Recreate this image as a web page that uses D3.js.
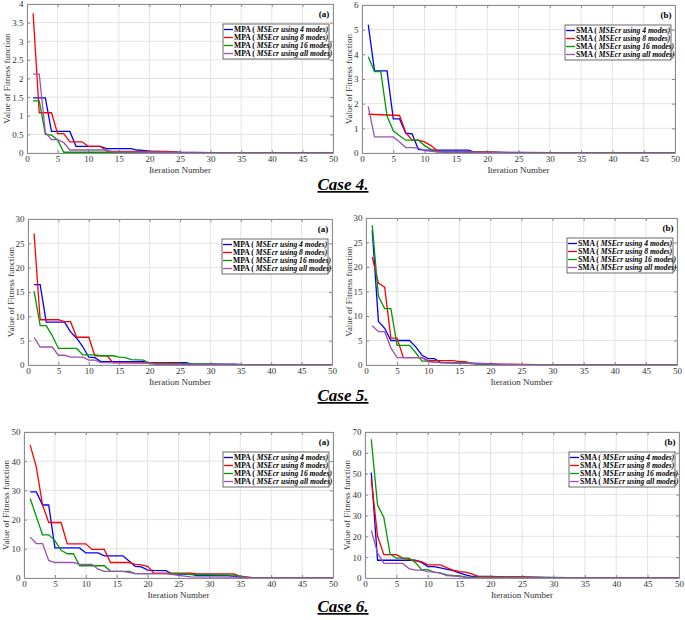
<!DOCTYPE html>
<html>
<head>
<meta charset="utf-8">
<script src="https://d3js.org/d3.v7.min.js"></script>
<style>
body { margin: 0; background: #fff; }
svg { display: block; }
</style>
</head>
<body>
<div id="chart"></div>
<script>
// x ticks shared by every panel
var iterTicks = [0, 5, 10, 15, 20, 25, 30, 35, 40, 45, 50];
var modeLabels = ["using 4 modes)", "using 8 modes)", "using 16 modes)", "using all modes)"];
var lineColors = ["#0000ff", "#ff0000", "#009900", "#9e4fb8"];

// convergence curves, [iteration, fitness] breakpoints
// Case 4 - MPA
var c4_mpa_4 = [[1,1.48],[3,1.48],[4,0.58],[7,0.58],[8,0.18],[12,0.18],[13,0.12],[17,0.12],[18,0.08],[19,0.07],[20,0.05],[25,0.02],[30,0.01],[35,0],[50,0]];
var c4_mpa_8 = [[1,3.75],[2,1.08],[4,1.08],[5,0.52],[6,0.52],[7,0.3],[9,0.3],[10,0.18],[12,0.18],[13,0.05],[23,0.04],[25,0.01],[30,0],[50,0]];
var c4_mpa_16 = [[1,1.4],[2,1.4],[3,0.5],[4,0.48],[5,0.35],[6,0.02],[22,0.02],[25,0],[50,0]];
var c4_mpa_all = [[1,2.12],[2,2.12],[3,0.55],[4,0.36],[5,0.36],[6,0.28],[7,0.08],[13,0.08],[14,0.03],[22,0.02],[26,0],[50,0]];
var c4_mpa_ticks = [0, 0.5, 1, 1.5, 2, 2.5, 3, 3.5, 4];
// Case 4 - SMA
var c4_sma_4 = [[1,5.2],[2,3.33],[4,3.33],[5,1.38],[6,1.38],[7,0.8],[8,0.78],[9,0.15],[10,0.12],[17,0.12],[18,0.04],[25,0.02],[30,0.01],[35,0],[50,0]];
var c4_sma_8 = [[1,1.57],[6,1.52],[7,0.82],[8,0.52],[9,0.52],[10,0.45],[11,0.3],[12,0.1],[13,0.05],[20,0.04],[24,0],[50,0]];
var c4_sma_16 = [[1,3.9],[2,3.3],[3,3.3],[4,1.5],[5,0.9],[6,0.7],[7,0.52],[9,0.52],[10,0.3],[11,0.15],[12,0.05],[20,0.02],[24,0],[50,0]];
var c4_sma_all = [[1,1.88],[2,0.65],[5,0.65],[6,0.45],[7,0.22],[8,0.22],[9,0.2],[10,0.1],[12,0.05],[20,0.02],[25,0],[50,0]];
var c4_sma_ticks = [0, 1, 2, 3, 4, 5, 6];
// Case 5 - MPA
var c5_mpa_4 = [[1,16.5],[2,16.5],[3,8.8],[6,8.8],[7,6.8],[8,5.5],[9,3.8],[10,1.6],[11,1.5],[12,0.7],[19,0.7],[20,0.5],[26,0.5],[27,0.2],[34,0.2],[36,0],[50,0]];
var c5_mpa_8 = [[1,27],[2,9.3],[5,9.3],[6,8.9],[7,8.9],[8,5.7],[10,5.7],[11,1.9],[13,1.9],[14,0.5],[25,0.4],[26,0.2],[30,0.1],[35,0],[50,0]];
var c5_mpa_16 = [[1,15.2],[2,8.1],[3,8.1],[4,6],[5,3.4],[8,3.4],[9,2.1],[11,2.1],[12,1.9],[14,1.9],[15,1.6],[16,1.5],[17,1.1],[19,1.0],[20,0.3],[30,0.2],[33,0],[50,0]];
var c5_mpa_all = [[1,5.7],[2,3.7],[4,3.7],[5,2],[6,2],[7,1.6],[9,1.6],[10,1.0],[11,1.0],[12,0.5],[20,0.4],[21,0.1],[30,0.05],[35,0],[50,0]];
var c5_mpa_ticks = [0, 5, 10, 15, 20, 25, 30];
// Case 5 - SMA
var c5_sma_4 = [[1,27.5],[2,8.9],[3,7.5],[4,5],[7,5],[8,3.7],[9,2],[10,1.3],[11,1.3],[12,0.5],[20,0.3],[21,0.1],[30,0.05],[35,0],[50,0]];
var c5_sma_8 = [[1,22],[2,16.7],[3,15.9],[4,5.5],[5,5.5],[6,1.5],[9,1.5],[10,0.9],[14,0.9],[15,0.7],[16,0.7],[17,0.3],[25,0.1],[30,0],[50,0]];
var c5_sma_16 = [[1,28.5],[2,14],[3,11.5],[4,11.5],[5,4],[7,4],[8,2.5],[9,0.8],[10,0.8],[11,0.6],[17,0.4],[18,0.1],[25,0],[50,0]];
var c5_sma_all = [[1,8],[2,6.8],[3,6.8],[4,3.5],[5,1.5],[9,1.5],[10,0.7],[12,0.5],[20,0.2],[25,0.05],[30,0],[50,0]];
var c5_sma_ticks = [0, 5, 10, 15, 20, 25, 30];
// Case 6 - MPA
var c6_mpa_4 = [[1,29.5],[2,29.5],[3,25],[4,25],[5,10.3],[9,10.3],[10,8.6],[12,8.6],[13,7.6],[16,7.6],[17,5.8],[18,4],[19,3.8],[20,2.7],[21,2.6],[23,2.5],[24,1.3],[27,1.3],[28,0.8],[33,0.8],[35,0.3],[38,0],[50,0]];
var c6_mpa_8 = [[1,45.5],[2,38],[3,25],[4,19],[6,19],[7,11.7],[10,11.7],[11,9.8],[13,9.8],[14,5.3],[17,5.3],[18,4.7],[19,4.5],[20,4],[21,1.7],[27,1.7],[28,1.4],[34,1.4],[35,0.6],[37,0.1],[40,0],[50,0]];
var c6_mpa_16 = [[1,27.2],[2,21],[3,14.8],[4,14.8],[5,12.8],[6,9.5],[7,8.3],[8,8.3],[9,4.2],[13,4.2],[14,2.3],[17,2.3],[18,1.5],[26,1.5],[27,1.2],[34,1.0],[36,0.2],[38,0],[50,0]];
var c6_mpa_all = [[1,14],[2,11.8],[3,11.8],[4,6],[5,5.3],[8,5.3],[9,4.7],[11,4.7],[12,3],[13,2.3],[16,2.3],[18,1.5],[23,1.5],[25,0.9],[27,0.4],[35,0.3],[37,0],[50,0]];
var c6_mpa_ticks = [0, 10, 20, 30, 40, 50];
// Case 6 - SMA
var c6_sma_4 = [[1,50.5],[2,8.5],[8,8.5],[9,7.5],[10,5.5],[11,5.5],[12,4.8],[14,3.5],[15,2.5],[16,1.5],[17,0.8],[20,0.8],[22,0.5],[25,0.4],[30,0.2],[35,0.1],[40,0],[50,0]];
var c6_sma_8 = [[1,47.5],[2,20],[3,11.2],[5,11.2],[6,9.5],[8,8.3],[9,7.8],[10,6.3],[12,6.3],[13,5],[14,3.8],[15,3],[16,2.8],[17,2],[18,0.8],[25,0.5],[30,0.1],[35,0],[50,0]];
var c6_sma_16 = [[1,66.5],[2,35],[3,29],[4,11.5],[5,9.5],[7,9.5],[8,7.5],[9,4],[10,4],[11,2.8],[12,2.5],[13,1.5],[14,1.2],[15,1.0],[16,0.5],[30,0.3],[35,0],[50,0]];
var c6_sma_all = [[1,22.8],[2,12],[3,7],[6,7],[7,4.5],[8,3.8],[9,3.8],[10,3.1],[11,2.8],[12,2.3],[13,1.2],[15,0.8],[16,0.3],[25,0.2],[35,0],[50,0]];
var c6_sma_ticks = [0, 10, 20, 30, 40, 50, 60, 70];

var captions = ["Case 4.", "Case 5.", "Case 6."];

var panels = [
    { left: 27, right: 333, top: 4, bottom: 153, ylab: 7, algo: "MPA", tag: "(a)", ticks: c4_mpa_ticks, series: [c4_mpa_4, c4_mpa_8, c4_mpa_16, c4_mpa_all] },
    { left: 362, right: 675, top: 5, bottom: 153, ylab: 349, algo: "SMA", tag: "(b)", ticks: c4_sma_ticks, series: [c4_sma_4, c4_sma_8, c4_sma_16, c4_sma_all] },
    { left: 28, right: 332, top: 219, bottom: 365, ylab: 11, algo: "MPA", tag: "(a)", ticks: c5_mpa_ticks, series: [c5_mpa_4, c5_mpa_8, c5_mpa_16, c5_mpa_all] },
    { left: 366, right: 677, top: 218, bottom: 365, ylab: 349, algo: "SMA", tag: "(b)", ticks: c5_sma_ticks, series: [c5_sma_4, c5_sma_8, c5_sma_16, c5_sma_all] },
    { left: 24, right: 333, top: 432, bottom: 578, ylab: 6, algo: "MPA", tag: "(a)", ticks: c6_mpa_ticks, series: [c6_mpa_4, c6_mpa_8, c6_mpa_16, c6_mpa_all] },
    { left: 365, right: 679, top: 432, bottom: 578, ylab: 347, algo: "SMA", tag: "(b)", ticks: c6_sma_ticks, series: [c6_sma_4, c6_sma_8, c6_sma_16, c6_sma_all] }
];

var svg = d3.select('#chart')
    .append('svg')
    .attr('width', 685)
    .attr('height', 620)
    .style('font-family', '"Liberation Serif", "Times New Roman", serif');

panels.forEach(function(p, k) {
    draw_panel(p, k);
});

// the case captions
var capY = [190, 401, 612];
captions.forEach(function(c, i) {
    svg.append('text')
        .attr('x', 343)
        .attr('y', capY[i])
        .attr('text-anchor', 'middle')
        .style('font-size', '17px')
        .style('font-weight', 'bold')
        .style('font-style', 'italic')
        .style('text-decoration', 'underline')
        .text(c);
});

function draw_panel(p, k) {
    var ymax = p.ticks[p.ticks.length - 1];
    var x = d3.scaleLinear().domain([0, 50]).range([p.left, p.right]);
    var y = d3.scaleLinear().domain([0, ymax]).range([p.bottom, p.top]);

    var g = svg.append('g');

    // grid
    g.selectAll('.vg').data(iterTicks).enter().append('line')
        .attr('x1', function(d) { return x(d); })
        .attr('x2', function(d) { return x(d); })
        .attr('y1', p.top).attr('y2', p.bottom)
        .style('stroke', '#e3e3e3').style('stroke-width', 1);
    g.selectAll('.hg').data(p.ticks).enter().append('line')
        .attr('y1', function(d) { return y(d); })
        .attr('y2', function(d) { return y(d); })
        .attr('x1', p.left).attr('x2', p.right)
        .style('stroke', '#e3e3e3').style('stroke-width', 1);

    // axes, ticks pointing inward like matlab
    var xAxis = g.append('g')
        .attr('transform', 'translate(0,' + p.bottom + ')')
        .call(d3.axisBottom(x).tickValues(iterTicks).tickSizeInner(-3).tickSizeOuter(0).tickPadding(2.5));
    var xTop = g.append('g')
        .attr('transform', 'translate(0,' + p.top + ')')
        .call(d3.axisTop(x).tickValues(iterTicks).tickSizeInner(-3).tickSizeOuter(0).tickFormat(''));
    var yAxis = g.append('g')
        .attr('transform', 'translate(' + p.left + ',0)')
        .call(d3.axisLeft(y).tickValues(p.ticks).tickSizeInner(-3).tickSizeOuter(0).tickPadding(3.5).tickFormat(d3.format('')));
    var yRight = g.append('g')
        .attr('transform', 'translate(' + p.right + ',0)')
        .call(d3.axisRight(y).tickValues(p.ticks).tickSizeInner(-3).tickSizeOuter(0).tickFormat(''));

    [xAxis, xTop, yAxis, yRight].forEach(function(a) {
        a.select('.domain').style('stroke', '#8c8c8c');
        a.selectAll('line').style('stroke', '#8c8c8c');
        a.selectAll('text')
            .style('font-family', '"Liberation Serif", "Times New Roman", serif')
            .style('font-size', '9px')
            .style('fill', '#333');
    });

    // axis titles
    g.append('text')
        .attr('x', (p.left + p.right) / 2)
        .attr('y', p.bottom + 20)
        .attr('text-anchor', 'middle')
        .style('font-size', '9px')
        .style('fill', '#333')
        .text('Iteration Number');
    g.append('text')
        .attr('transform', 'translate(' + p.ylab + ',' + ((p.top + p.bottom) / 2) + ') rotate(-90)')
        .attr('dy', '0.35em')
        .attr('text-anchor', 'middle')
        .style('font-size', '9px')
        .style('fill', '#333')
        .text('Value of Fitness function');

    // curves
    var clipId = 'clip' + k;
    svg.append('clipPath').attr('id', clipId)
        .append('rect')
        .attr('x', p.left).attr('y', p.top - 2)
        .attr('width', p.right - p.left).attr('height', p.bottom - p.top + 2);

    var line = d3.line()
        .x(function(d) { return x(d[0]); })
        .y(function(d) { return y(d[1]); });

    g.append('g').attr('clip-path', 'url(#' + clipId + ')')
        .selectAll('path')
        .data(p.series)
        .enter()
        .append('path')
        .attr('d', line)
        .style('fill', 'none')
        .style('stroke', function(d, i) { return lineColors[i]; })
        .style('stroke-width', 1.3);

    // panel tag
    g.append('text')
        .attr('x', p.right - 9)
        .attr('y', p.top + 13)
        .attr('text-anchor', 'middle')
        .style('font-size', '9px')
        .style('font-weight', 'bold')
        .text(p.tag);

    // legend
    var lw = 106, lh = 35;
    var lx = p.right - lw - 4, ly = p.top + 20;
    var leg = g.append('g').attr('transform', 'translate(' + lx + ',' + ly + ')');
    leg.append('rect')
        .attr('width', lw).attr('height', lh)
        .style('fill', '#fff')
        .style('stroke', '#444')
        .style('stroke-width', 0.8);
    modeLabels.forEach(function(m, i) {
        var ry = 5.5 + i * 8;
        leg.append('line')
            .attr('x1', 1).attr('x2', 10)
            .attr('y1', ry).attr('y2', ry)
            .style('stroke', lineColors[i]).style('stroke-width', 1.3);
        var t = leg.append('text')
            .attr('x', 11)
            .attr('y', ry)
            .attr('dy', '0.35em')
            .style('font-size', '7.6px')
            .style('font-weight', 'bold');
        t.append('tspan').text(p.algo + ' ( ');
        t.append('tspan').style('font-style', 'italic').text('MSEcr ' + m);
    });
}
</script>
</body>
</html>
